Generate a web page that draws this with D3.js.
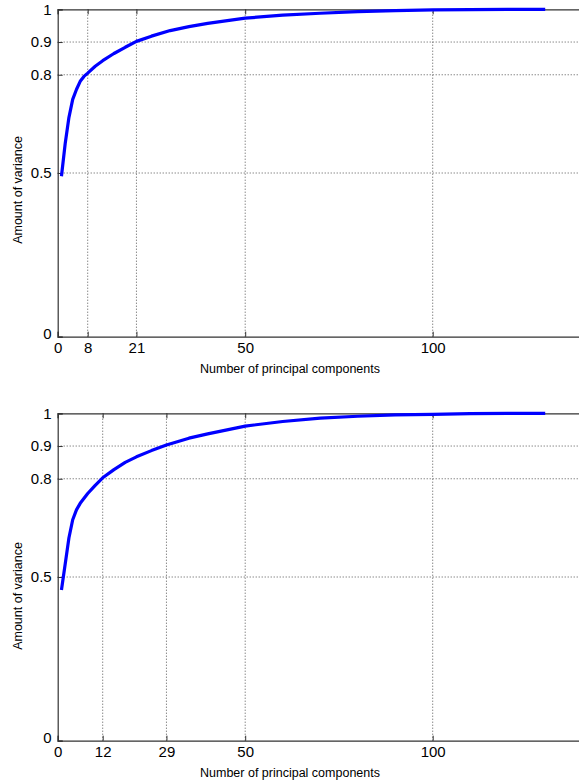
<!DOCTYPE html>
<html>
<head>
<meta charset="utf-8">
<script src="https://cdn.jsdelivr.net/npm/d3@7"></script>
<style>
  html, body { margin: 0; padding: 0; background: #fff; }
  svg { display: block; }
  text { font-family: "Liberation Sans", Arial, Helvetica, sans-serif; fill: #000; }
</style>
</head>
<body>
<svg id="chart" width="579" height="783"></svg>
<script>
// ---- data ----
const topComponents = [1, 2, 3, 4, 5, 6, 7, 8, 10, 12, 15, 18, 21, 25, 30, 35, 40, 50, 60, 70, 80, 90, 100, 110, 120, 130];
const topVariance   = [0.49, 0.59, 0.67, 0.725, 0.755, 0.78, 0.795, 0.805, 0.826, 0.843, 0.865, 0.884, 0.902, 0.918, 0.935, 0.947, 0.957, 0.973, 0.982, 0.988, 0.993, 0.996, 0.998, 0.999, 1.0, 1.0];
const topXTicks = [0, 8, 21, 50, 100];

const bottomComponents = [1, 2, 3, 4, 5, 6, 8, 10, 12, 15, 18, 21, 25, 29, 35, 40, 50, 60, 70, 80, 90, 100, 110, 120, 130];
const bottomVariance   = [0.46, 0.54, 0.62, 0.675, 0.705, 0.725, 0.755, 0.78, 0.803, 0.828, 0.85, 0.867, 0.886, 0.903, 0.924, 0.937, 0.961, 0.975, 0.985, 0.991, 0.995, 0.997, 0.999, 1.0, 1.0];
const bottomXTicks = [0, 12, 29, 50, 100];

const yTicks = [0, 0.5, 0.8, 0.9, 1];
const xDomainMax = 140;
const xTitle = "Number of principal components";
const yTitle = "Amount of variance";

// ---- drawing ----
const svg = d3.select("#chart");

function panel(cfg) {
  const g = svg.append("g");
  const x = d3.scaleLinear().domain([0, xDomainMax]).range([cfg.left, cfg.left + 525]);
  const y = d3.scaleLinear().domain([0, 1]).range([cfg.bottom, cfg.top]);

  // grid (dotted)
  const gridColor = "#555";
  g.selectAll("line.vgrid").data(cfg.xTicks.filter(d => d > 0)).join("line")
    .attr("x1", d => x(d)).attr("x2", d => x(d))
    .attr("y1", y(0)).attr("y2", y(1))
    .attr("stroke", gridColor).attr("stroke-width", 1)
    .attr("stroke-dasharray", "1,2");
  g.selectAll("line.hgrid").data(yTicks.filter(d => d > 0 && d < 1)).join("line")
    .attr("x1", x(0)).attr("x2", x(xDomainMax))
    .attr("y1", d => y(d)).attr("y2", d => y(d))
    .attr("stroke", gridColor).attr("stroke-width", 1)
    .attr("stroke-dasharray", "1,2");

  // axes
  const xAxis = d3.axisBottom(x).tickValues(cfg.xTicks).tickSize(-5).tickPadding(8).tickFormat(d3.format("d"));
  const gx = g.append("g").attr("transform", `translate(0,${y(0)})`).call(xAxis);
  const yAxis = d3.axisLeft(y).tickValues(yTicks).tickSize(-5).tickPadding(6).tickFormat(d => d === 0 || d === 1 ? String(d) : d3.format(".1f")(d));
  const gy = g.append("g").attr("transform", `translate(${x(0)},0)`).call(yAxis);
  // top border with inward ticks
  const xAxisTop = d3.axisTop(x).tickValues(cfg.xTicks).tickSize(-5).tickFormat("");
  const gt = g.append("g").attr("transform", `translate(0,${y(1)})`).call(xAxisTop);

  [gx, gy, gt].forEach(a => {
    a.select(".domain").attr("stroke", "#333").attr("stroke-width", 1.2);
    a.selectAll(".tick line").attr("stroke", "#333");
    a.selectAll(".tick text").attr("font-size", 15).attr("fill", "#000")
      .attr("font-family", "Liberation Sans, Arial, sans-serif");
  });
  gy.selectAll(".tick text").filter(d => d === 0).attr("dy", "0.15em");
  gx.selectAll(".tick text").attr("dy", "0.55em");

  // curve
  const data = cfg.xs.map((c, i) => [c, cfg.ys[i]]);
  g.append("path").datum(data)
    .attr("fill", "none").attr("stroke", "#0000ff").attr("stroke-width", 3.2)
    .attr("stroke-linejoin", "round")
    .attr("d", d3.line().x(d => x(d[0])).y(d => y(d[1])));

  // titles
  g.append("text").attr("x", 290).attr("y", cfg.bottom + 36)
    .attr("text-anchor", "middle").attr("font-size", 12.5).text(xTitle);
  g.append("text")
    .attr("transform", `translate(22,${cfg.yTitleCenter}) rotate(-90)`)
    .attr("text-anchor", "middle").attr("font-size", 12.5).text(yTitle);
}

panel({ left: 57.7, top: 9.3, bottom: 336.7, xs: topComponents, ys: topVariance, xTicks: topXTicks, yTitleCenter: 190 });
panel({ left: 57.7, top: 413.3, bottom: 740.7, xs: bottomComponents, ys: bottomVariance, xTicks: bottomXTicks, yTitleCenter: 596 });
</script>
</body>
</html>
